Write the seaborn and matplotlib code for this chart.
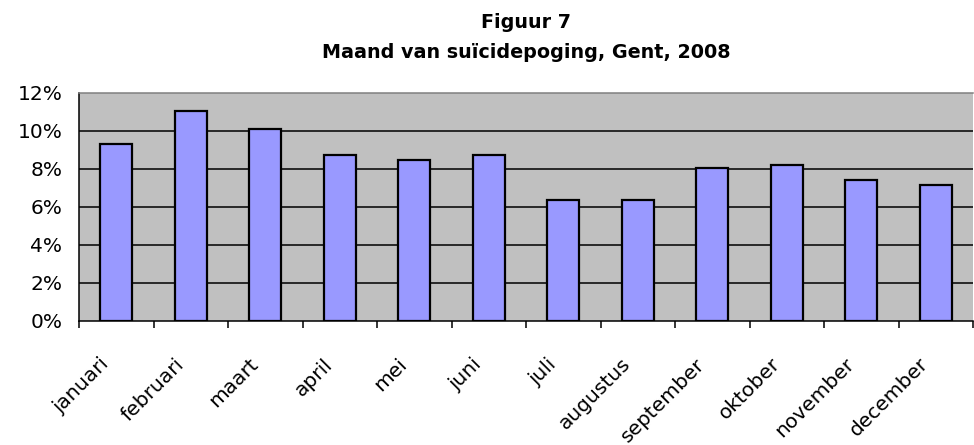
import matplotlib
matplotlib.use("Agg")
import matplotlib.pyplot as plt
import matplotlib.transforms as mtransforms
from matplotlib.ticker import PercentFormatter, FixedLocator
import seaborn as sns
import pandas as pd

months = ["januari", "februari", "maart", "april", "mei", "juni", "juli",
          "augustus", "september", "oktober", "november", "december"]
percentages = [9.3, 11.05, 10.13, 8.76, 8.46, 8.76, 6.35, 6.35, 8.04, 8.23, 7.40, 7.18]
title_line1 = "Figuur 7"
title_line2 = "Maand van suïcidepoging, Gent, 2008"

df = pd.DataFrame({"maand": months, "pct": percentages})

sns.set_style("white")
plt.rcParams["font.family"] = ["DejaVu Sans"]
plt.rcParams["text.color"] = "black"
plt.rcParams["xtick.color"] = "black"
plt.rcParams["ytick.color"] = "black"
plt.rcParams["xtick.labelcolor"] = "black"
plt.rcParams["ytick.labelcolor"] = "black"

fig = plt.figure(figsize=(9.74, 4.45), dpi=100)
ax = fig.add_axes([79 / 974, 1 - 321 / 445, (973 - 79) / 974, (321 - 93) / 445])
ax.set_facecolor("#C0C0C0")

sns.barplot(data=df, x="maand", y="pct", color="#9999FF", edgecolor="black",
            linewidth=1.6, width=0.43, saturation=1, ax=ax, zorder=3)

ax.set_xlim(-0.5, len(months) - 0.5)
ax.set_ylim(0, 12)
ax.set_yticks([0, 2, 4, 6, 8, 10, 12])
ax.yaxis.set_major_formatter(PercentFormatter(xmax=100, decimals=0))
for y in [2, 4, 6, 8, 10]:
    ax.axhline(y, color="black", linewidth=1.1, zorder=1)

ax.set_xlabel("")
ax.set_ylabel("")

for side in ["left", "bottom"]:
    ax.spines[side].set_color("black")
    ax.spines[side].set_linewidth(1.1)
ax.spines["top"].set_color("#808080")
ax.spines["top"].set_linewidth(1.1)
ax.spines["right"].set_visible(False)

ax.tick_params(axis="y", length=6, width=1.1, colors="black", pad=6, labelsize=14.5)
ax.xaxis.set_minor_locator(FixedLocator([i - 0.5 for i in range(len(months) + 1)]))
ax.tick_params(axis="x", which="minor", length=5, width=1.1, color="black", bottom=True)
ax.tick_params(axis="x", which="major", length=0, pad=29, labelsize=14.5,
               labelcolor="black", bottom=True)

offset = mtransforms.ScaledTranslation(-10 / 100, 0, fig.dpi_scale_trans)
for lab in ax.get_xticklabels():
    lab.set_rotation(45)
    lab.set_ha("right")
    lab.set_va("center")
    lab.set_rotation_mode("anchor")
    lab.set_transform(lab.get_transform() + offset)

cx = (79 + 973) / 2 / 974
fig.text(cx, 1 - 22 / 445, title_line1, ha="center", va="center",
         fontsize=13.8, fontweight="bold", color="black")
fig.text(cx, 1 - 52 / 445, title_line2, ha="center", va="center",
         fontsize=13.8, fontweight="bold", color="black")

fig.savefig("out.png", dpi=100)
